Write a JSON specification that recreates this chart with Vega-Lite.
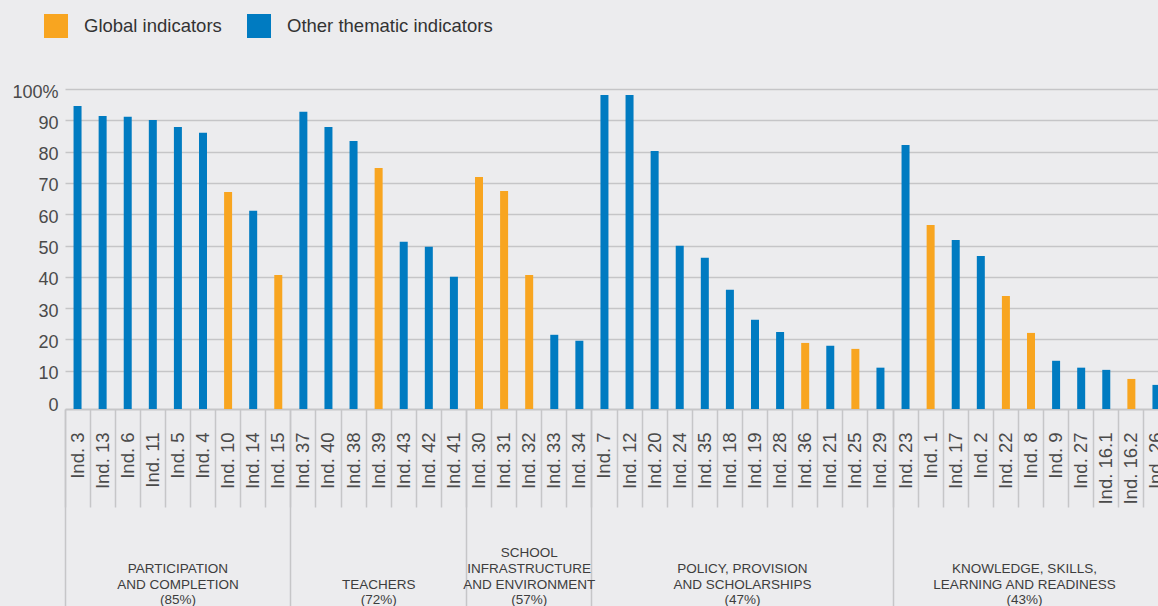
{
  "$schema": "https://vega.github.io/schema/vega-lite/v6.json",
  "width": 1093,
  "height": 320,
  "autosize": {"type": "none"},
  "padding": {"left": 65, "top": 89, "right": 0, "bottom": 197},
  "background": "#ececee",
  "config": {"view": {"stroke": null}, "font": "Liberation Sans"},
  "data": {"values": [
    {"indicator": "Ind. 3", "value": 94.6, "type": "Other thematic indicators"},
    {"indicator": "Ind. 13", "value": 91.4, "type": "Other thematic indicators"},
    {"indicator": "Ind. 6", "value": 91.1, "type": "Other thematic indicators"},
    {"indicator": "Ind. 11", "value": 90.1, "type": "Other thematic indicators"},
    {"indicator": "Ind. 5", "value": 87.9, "type": "Other thematic indicators"},
    {"indicator": "Ind. 4", "value": 86.0, "type": "Other thematic indicators"},
    {"indicator": "Ind. 10", "value": 67.1, "type": "Global indicators"},
    {"indicator": "Ind. 14", "value": 61.1, "type": "Other thematic indicators"},
    {"indicator": "Ind. 15", "value": 40.6, "type": "Global indicators"},
    {"indicator": "Ind. 37", "value": 92.7, "type": "Other thematic indicators"},
    {"indicator": "Ind. 40", "value": 87.9, "type": "Other thematic indicators"},
    {"indicator": "Ind. 38", "value": 83.4, "type": "Other thematic indicators"},
    {"indicator": "Ind. 39", "value": 74.8, "type": "Global indicators"},
    {"indicator": "Ind. 43", "value": 51.2, "type": "Other thematic indicators"},
    {"indicator": "Ind. 42", "value": 49.6, "type": "Other thematic indicators"},
    {"indicator": "Ind. 41", "value": 40.0, "type": "Other thematic indicators"},
    {"indicator": "Ind. 30", "value": 71.9, "type": "Global indicators"},
    {"indicator": "Ind. 31", "value": 67.4, "type": "Global indicators"},
    {"indicator": "Ind. 32", "value": 40.6, "type": "Global indicators"},
    {"indicator": "Ind. 33", "value": 21.5, "type": "Other thematic indicators"},
    {"indicator": "Ind. 34", "value": 19.6, "type": "Other thematic indicators"},
    {"indicator": "Ind. 7", "value": 98.1, "type": "Other thematic indicators"},
    {"indicator": "Ind. 12", "value": 98.1, "type": "Other thematic indicators"},
    {"indicator": "Ind. 20", "value": 80.2, "type": "Other thematic indicators"},
    {"indicator": "Ind. 24", "value": 49.9, "type": "Other thematic indicators"},
    {"indicator": "Ind. 35", "value": 46.1, "type": "Other thematic indicators"},
    {"indicator": "Ind. 18", "value": 35.9, "type": "Other thematic indicators"},
    {"indicator": "Ind. 19", "value": 26.3, "type": "Other thematic indicators"},
    {"indicator": "Ind. 28", "value": 22.4, "type": "Other thematic indicators"},
    {"indicator": "Ind. 36", "value": 18.9, "type": "Global indicators"},
    {"indicator": "Ind. 21", "value": 18.0, "type": "Other thematic indicators"},
    {"indicator": "Ind. 25", "value": 17.0, "type": "Global indicators"},
    {"indicator": "Ind. 29", "value": 11.0, "type": "Other thematic indicators"},
    {"indicator": "Ind. 23", "value": 82.1, "type": "Other thematic indicators"},
    {"indicator": "Ind. 1", "value": 56.6, "type": "Global indicators"},
    {"indicator": "Ind. 17", "value": 51.8, "type": "Other thematic indicators"},
    {"indicator": "Ind. 2", "value": 46.7, "type": "Other thematic indicators"},
    {"indicator": "Ind. 22", "value": 33.9, "type": "Global indicators"},
    {"indicator": "Ind. 8", "value": 22.1, "type": "Global indicators"},
    {"indicator": "Ind. 9", "value": 13.2, "type": "Other thematic indicators"},
    {"indicator": "Ind. 27", "value": 11.0, "type": "Other thematic indicators"},
    {"indicator": "Ind. 16.1", "value": 10.3, "type": "Other thematic indicators"},
    {"indicator": "Ind. 16.2", "value": 7.4, "type": "Global indicators"},
    {"indicator": "Ind. 26", "value": 5.5, "type": "Other thematic indicators"}
  ]},
  "resolve": {"axis": {"x": "independent"}},
  "layer": [
    {
      "mark": {"type": "bar", "size": 8},
      "encoding": {
        "x": {
          "field": "indicator", "type": "nominal", "sort": null,
          "scale": {"range": [0, 1104], "paddingInner": 0, "paddingOuter": 0},
          "axis": {
            "orient": "bottom", "title": null, "grid": false,
            "labelAngle": -90, "labelFontSize": 18.5, "labelColor": "#4a4a4a",
            "labelFont": "Liberation Sans", "labelOverlap": false,
            "bandPosition": 0, "tickSize": 98, "tickColor": "#c6c6c8", "tickWidth": 1.5,
            "labelPadding": -75, "domainColor": "#c6c6c8", "domainWidth": 2
          }
        },
        "y": {
          "field": "value", "type": "quantitative",
          "scale": {"domain": [-2.2, 100], "nice": false, "zero": false},
          "axis": {
            "title": null, "values": [0, 10, 20, 30, 40, 50, 60, 70, 80, 90, 100],
            "labelExpr": "datum.value == 100 ? '100%' : datum.label",
            "domain": false, "ticks": false, "labelPadding": 7, "labelOffset": 3,
            "labelFontSize": 18, "labelColor": "#4a4a4a", "labelFont": "Liberation Sans",
            "gridColor": "#c5c5c7", "gridWidth": 1.5,
            "gridOpacity": {"condition": {"test": "datum.value == 0", "value": 0}, "value": 1}
          }
        },
        "y2": {"datum": -2.2},
        "color": {
          "field": "type", "type": "nominal",
          "scale": {"domain": ["Global indicators", "Other thematic indicators"], "range": ["#f8a520", "#007bc1"]},
          "legend": {
            "title": null, "orient": "none", "legendX": -21, "legendY": -75,
            "direction": "horizontal", "symbolType": "square", "symbolSize": 576,
            "symbolStrokeWidth": 0, "symbolOpacity": 1, "labelFontSize": 18.5, "labelColor": "#333333",
            "labelFont": "Liberation Sans", "labelOffset": 16, "columnPadding": 25, "padding": 0,
            "labelLimit": 0
          }
        }
      }
    },
    {
      "mark": {"type": "bar", "opacity": 0},
      "encoding": {
        "x": {
          "field": "indicator", "type": "nominal", "sort": null,
          "axis": {
            "orient": "bottom", "title": null, "grid": false, "labels": false, "domain": false,
            "values": ["Ind. 3", "Ind. 37", "Ind. 30", "Ind. 7", "Ind. 23"],
            "bandPosition": 0, "tickSize": 197, "tickColor": "#c6c6c8", "tickWidth": 1.5
          }
        }
      }
    },
    {
      "mark": {"type": "bar", "opacity": 0},
      "encoding": {
        "x": {
          "field": "indicator", "type": "nominal", "sort": null,
          "axis": {
            "orient": "bottom", "title": null, "grid": false, "ticks": false, "domain": false,
            "values": ["Ind. 5", "Ind. 39", "Ind. 32", "Ind. 18", "Ind. 8"],
            "labelAngle": 0, "labelAlign": "center", "labelBaseline": "top",
            "labelFontSize": 13.5, "labelLineHeight": 15.8,
            "labelColor": "#3d3d3d", "labelFont": "Liberation Sans", "labelOverlap": false, "labelBound": false, "labelFlush": false,
            "labelLimit": 0,
            "labelPadding": {"condition": [{"test": "datum.value == 'Ind. 32'", "value": 136.5}, {"test": "datum.value == 'Ind. 39'", "value": 168.1}], "value": 152.3},
            "labelOffset": {"condition": [{"test": "datum.value == 'Ind. 18'", "value": 12.5}, {"test": "datum.value == 'Ind. 8'", "value": -6.5}], "value": 0},
            "labelExpr": "datum.value == 'Ind. 5' ? ['PARTICIPATION', 'AND COMPLETION', '(85%)'] : datum.value == 'Ind. 39' ? ['TEACHERS', '(72%)'] : datum.value == 'Ind. 32' ? ['SCHOOL', 'INFRASTRUCTURE', 'AND ENVIRONMENT', '(57%)'] : datum.value == 'Ind. 18' ? ['POLICY, PROVISION', 'AND SCHOLARSHIPS', '(47%)'] : ['KNOWLEDGE, SKILLS,', 'LEARNING AND READINESS', '(43%)']"
          }
        }
      }
    }
  ]
}
